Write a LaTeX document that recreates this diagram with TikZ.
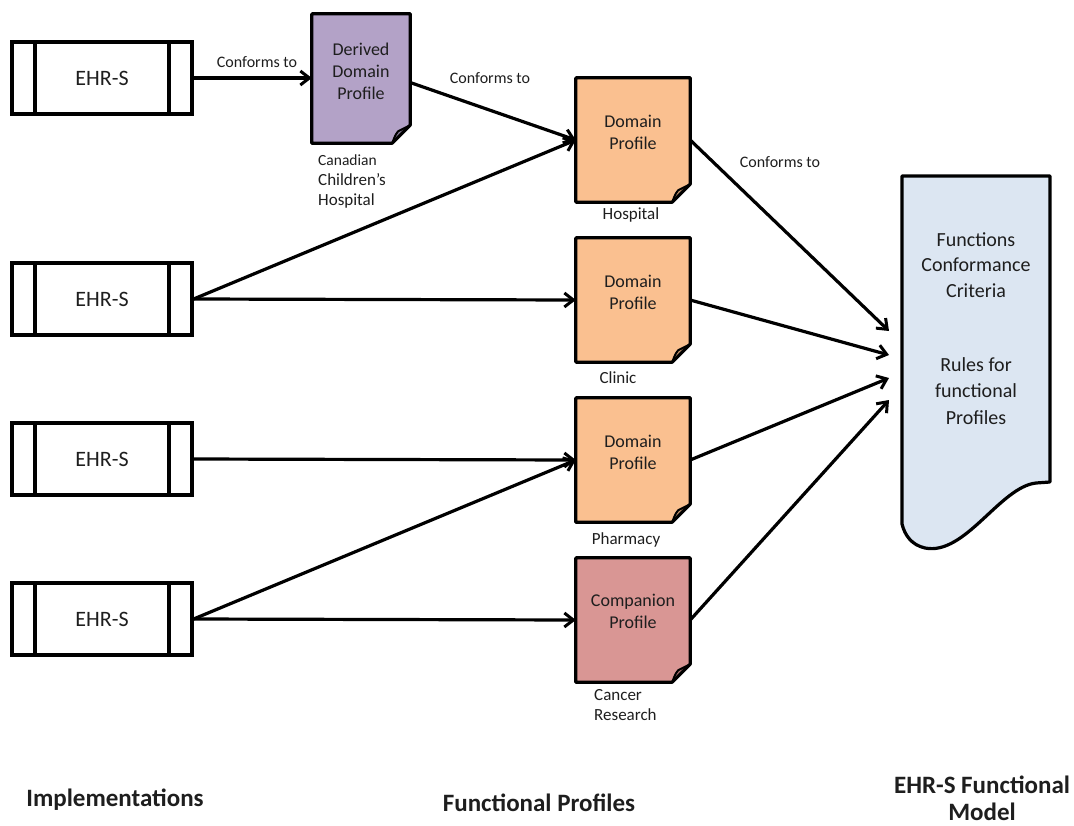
\documentclass[tikz,border=0pt]{standalone}
\usepackage{fontspec}
\setmainfont{Carlito}
\usetikzlibrary{arrows.meta,calc}

\definecolor{derivedfill}{HTML}{B3A2C7}
\definecolor{domainfill}{HTML}{FAC090}
\definecolor{companionfill}{HTML}{D99694}
\definecolor{modelfill}{HTML}{DCE6F2}
\definecolor{txt}{HTML}{1E1E1E}

\tikzset{
  ehrbox/.style={draw, line width=3.2pt, minimum width=180pt, minimum height=72pt,
    font=\fontsize{22}{26}\selectfont, text=txt,
    path picture={
      \draw[line width=3.2pt]
        ([xshift=23pt]path picture bounding box.north west) -- ([xshift=23pt]path picture bounding box.south west)
        ([xshift=-23pt]path picture bounding box.north east) -- ([xshift=-23pt]path picture bounding box.south east);
    }},
  profbox/.style={minimum width=114pt, minimum height=124pt, inner sep=0pt,
    font=\fontsize{18}{22}\selectfont, text=txt, align=center},
  conn/.style={line width=3.2pt, -{Straight Barb[length=9pt,width=14pt,line width=3pt]}},
  lbl/.style={font=\fontsize{17}{20}\selectfont, text=txt},
  heading/.style={font=\bfseries\fontsize{25}{29}\selectfont, text=txt, align=center},
}

% document outline with a dog-eared bottom-right corner
\newcommand{\dogear}[2]{%
  \fill[#2] (#1.north west) -- (#1.north east) -- ([yshift=18pt]#1.south east)
    -- ([xshift=-18pt]#1.south east) -- (#1.south west) -- cycle;
  \fill[#2!80!black] ([xshift=-18pt]#1.south east) .. controls ([xshift=-15pt,yshift=8pt]#1.south east) ..
    ([xshift=-12pt,yshift=12pt]#1.south east) -- ([yshift=18pt]#1.south east) -- cycle;
  \draw[line width=3.2pt, line join=round] (#1.north west) -- (#1.north east) -- ([yshift=18pt]#1.south east)
    -- ([xshift=-18pt]#1.south east) -- (#1.south west) -- cycle;
  \draw[line width=2pt, line join=round] ([xshift=-18pt]#1.south east) .. controls ([xshift=-15pt,yshift=8pt]#1.south east) ..
    ([xshift=-12pt,yshift=12pt]#1.south east) -- ([yshift=18pt]#1.south east);
}

\begin{document}
\begin{tikzpicture}[x=1pt,y=-1pt]
\useasboundingbox (0,0) rectangle (1074,825);

% implementations
\node[ehrbox] (e1) at (102,78) {EHR-S};
\node[ehrbox] (e2) at (102,299) {EHR-S};
\node[ehrbox] (e3) at (102,459) {EHR-S};
\node[ehrbox] (e4) at (102,619) {EHR-S};

% derived profile
\node[profbox, minimum width=98pt, minimum height=129pt] (dd) at (361,78.5) {};
\dogear{dd}{derivedfill}
\node[profbox, anchor=center] (ddt) at (361,71) {Derived\\Domain\\Profile};
\node[lbl, align=left, anchor=north west, inner sep=0pt] (ddl) at (318,155)
  {\fontsize{15.5}{20.5}\selectfont Canadian\\Children’s\\Hospital};

% functional profiles
\node[profbox] (hosp) at (633,140) {};
\node[profbox] (clin) at (633,300) {};
\node[profbox] (phar) at (633,460) {};
\node[profbox] (comp) at (633,620) {};
\dogear{hosp}{domainfill}
\dogear{clin}{domainfill}
\dogear{phar}{domainfill}
\dogear{comp}{companionfill}
\node[profbox, minimum height=0pt] (hospt) at (633,132) {Domain\\Profile};
\node[profbox, minimum height=0pt] (clint) at (633,292) {Domain\\Profile};
\node[profbox, minimum height=0pt] (phart) at (633,452) {Domain\\Profile};
\node[profbox, minimum height=0pt] (compt) at (633,611) {Companion\\Profile};

\node[lbl] (hospl) at (631,215) {Hospital};
\node[lbl] (clinl) at (618,378) {Clinic};
\node[lbl] (pharl) at (626,540) {Pharmacy};
\node[lbl, align=left, anchor=north west, inner sep=0pt] (compl) at (594,689)
  {\fontsize{17}{22}\selectfont Cancer\\Research};

% functional model document
\fill[modelfill] (902,176) -- (1050,176) -- (1050,482) -- (1036,483)
  .. controls (1000,487) and (965,556) .. (925,548)
  .. controls (912,545) and (905,536) .. (902,524) -- cycle;
\draw[line width=3.2pt, line join=round] (902,176) -- (1050,176) -- (1050,482) -- (1036,483)
  .. controls (1000,487) and (965,556) .. (925,548)
  .. controls (912,545) and (905,536) .. (902,524) -- cycle;
\node[font=\fontsize{20}{25.5}\selectfont, text=txt, align=center] (fmt1) at (976,265)
  {Functions\\Conformance\\Criteria};
\node[font=\fontsize{20}{26.5}\selectfont, text=txt, align=center] (fmt2) at (976,391)
  {Rules for\\functional\\Profiles};

% arrow end points in front of the model document
\coordinate (fm1) at (889,331);
\coordinate (fm2) at (889,355);
\coordinate (fm3) at (889,378);
\coordinate (fm4) at (889,400);

% connectors
\draw[conn] (e1.east) -- (dd.west |- e1.east);
\draw[conn] (dd.east) ++(0,4) coordinate (ddout) -- (hosp.west);
\draw[conn] (e2.east) -- (hosp.west);
\draw[conn] (e2.east) -- (clin.west);
\draw[conn] (e3.east) -- (phar.west);
\draw[conn] (e4.east) -- (phar.west);
\draw[conn] (e4.east) -- (comp.west);
\draw[conn] (hosp.east) -- (fm1);
\draw[conn] (clin.east) -- (fm2);
\draw[conn] (phar.east) -- (fm3);
\draw[conn] (comp.east) -- (fm4);

\node[lbl, font=\fontsize{16}{19}\selectfont] (c1) at (257,62) {Conforms to};
\node[lbl, font=\fontsize{16}{19}\selectfont] (c2) at (490,78) {Conforms to};
\node[lbl, font=\fontsize{16}{19}\selectfont] (c3) at (780,162) {Conforms to};

% column headings
\node[heading] (h1) at (115,800) {Implementations};
\node[heading] (h2) at (539,803) {Functional Profiles};
\node[heading, font=\bfseries\fontsize{25}{27}\selectfont] (h3) at (982,798) {EHR-S Functional\\Model};
\end{tikzpicture}
\end{document}
